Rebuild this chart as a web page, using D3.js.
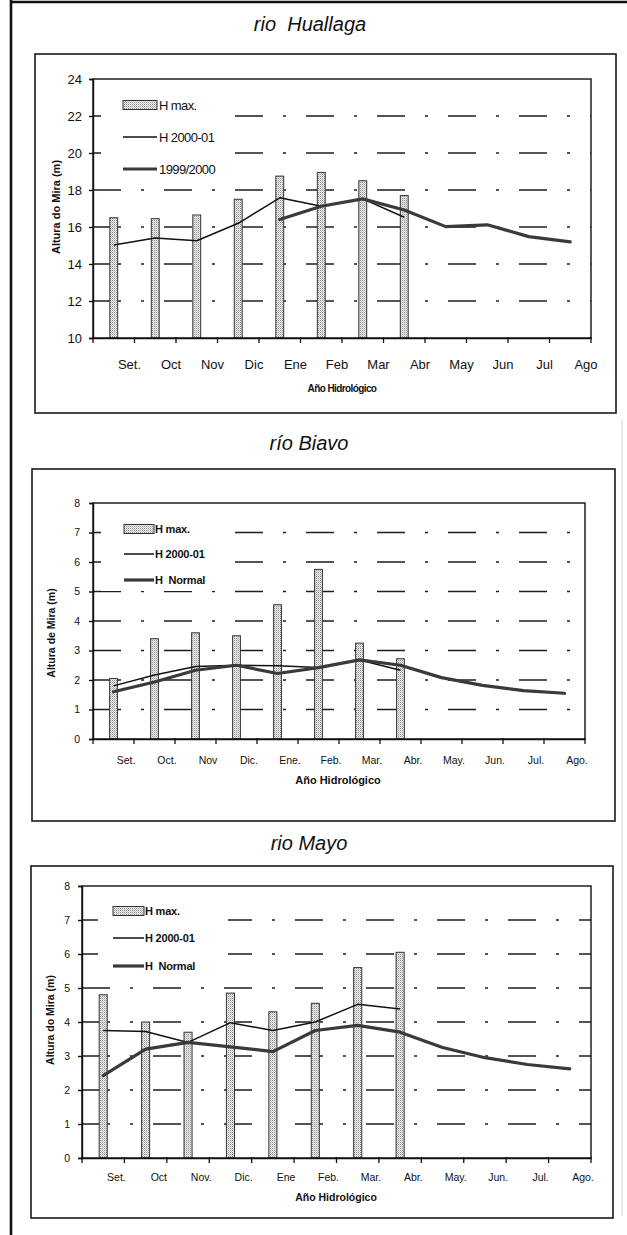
<!DOCTYPE html>
<html>
<head>
<meta charset="utf-8">
<script src="https://cdn.jsdelivr.net/npm/d3@7"></script>
<style>
  html, body { margin: 0; padding: 0; background: #fff; }
  svg { display: block; font-family: "Liberation Sans", Arial, sans-serif; }
  text { fill: #111; white-space: pre; }
</style>
</head>
<body>
<script>
// ---------- data ----------
const mesesHuallaga = ["Set.", "Oct", "Nov", "Dic", "Ene", "Feb", "Mar", "Abr", "May", "Jun", "Jul", "Ago"];
const mesesBiavo    = ["Set.", "Oct.", "Nov", "Dic.", "Ene.", "Feb.", "Mar.", "Abr.", "May.", "Jun.", "Jul.", "Ago."];
const mesesMayo     = ["Set.", "Oct", "Nov.", "Dic.", "Ene", "Feb.", "Mar.", "Abr.", "May.", "Jun.", "Jul.", "Ago."];

// río Huallaga (m)
const huallagaHmax  = [16.5, 16.45, 16.65, 17.5, 18.75, 18.95, 18.5, 17.7];
const huallagaH2000 = [15.03, 15.4, 15.26, 16.2, 17.58, 17.12, 17.52, 16.53];
const huallaga1999  = [null, null, null, null, 16.4, 17.12, 17.52, 16.92, 16.02, 16.12, 15.48, 15.2];
const huallagaTicks = [10, 12, 14, 16, 18, 20, 22, 24];

// río Biavo (m)
const biavoHmax   = [2.05, 3.4, 3.6, 3.5, 4.55, 5.75, 3.25, 2.72];
const biavoH2000  = [1.8, 2.17, 2.46, 2.5, 2.48, 2.42, 2.68, 2.33];
const biavoNormal = [1.6, 1.93, 2.33, 2.5, 2.22, 2.42, 2.68, 2.5, 2.08, 1.82, 1.64, 1.55];
const biavoTicks  = [0, 1, 2, 3, 4, 5, 6, 7, 8];

// río Mayo (m)
const mayoHmax   = [4.8, 4.0, 3.7, 4.85, 4.3, 4.55, 5.6, 6.05];
const mayoH2000  = [3.75, 3.72, 3.4, 3.98, 3.75, 4.0, 4.52, 4.38];
const mayoNormal = [2.42, 3.2, 3.4, 3.27, 3.13, 3.75, 3.9, 3.7, 3.25, 2.95, 2.75, 2.62];
const mayoTicks  = [0, 1, 2, 3, 4, 5, 6, 7, 8];

const leyendaHuallaga = ["H max.", "H 2000-01", "1999/2000"];
const leyendaNormal   = ["H max.", "H 2000-01", "H  Normal"];

// ---------- drawing ----------
const W = 627, H = 1235;
const svg = d3.select("body").append("svg").attr("width", W).attr("height", H);

// stippled fill used by the H max. bars
const defs = svg.append("defs");
const pat = defs.append("pattern").attr("id", "stipple")
  .attr("patternUnits", "userSpaceOnUse").attr("width", 2).attr("height", 2);
pat.append("rect").attr("width", 2).attr("height", 2).attr("fill", "#f2f2f2");
pat.append("rect").attr("width", 1).attr("height", 1).attr("fill", "#8c8c8c");
pat.append("rect").attr("x", 1).attr("y", 1).attr("width", 1).attr("height", 1).attr("fill", "#c4c4c4");

// page frame
svg.append("line").attr("x1", 11).attr("x2", 11).attr("y1", 0).attr("y2", H)
  .attr("stroke", "#111").attr("stroke-width", 2.6);
svg.append("line").attr("x1", 10).attr("x2", W).attr("y1", 2).attr("y2", 2)
  .attr("stroke", "#111").attr("stroke-width", 2.6);
svg.append("line").attr("x1", 622).attr("x2", 622).attr("y1", 420).attr("y2", 1216)
  .attr("stroke", "#d0d0d0").attr("stroke-width", 1);

function drawChart(cfg) {
  const g = svg.append("g");
  const p = cfg.plot;

  // outer box of the chart
  g.append("rect")
    .attr("x", cfg.box[0]).attr("y", cfg.box[1])
    .attr("width", cfg.box[2] - cfg.box[0]).attr("height", cfg.box[3] - cfg.box[1])
    .attr("fill", "none").attr("stroke", "#1a1a1a").attr("stroke-width", 1.6);

  // title
  g.append("text")
    .attr("x", cfg.title.x).attr("y", cfg.title.y)
    .attr("text-anchor", "middle").attr("font-style", "italic")
    .attr("font-size", 20).text(cfg.title.text);

  const x = d3.scaleBand().domain(cfg.cats).range([p.x0, p.x1]).padding(0);
  const y = d3.scaleLinear().domain([cfg.ticks[0], cfg.ticks[cfg.ticks.length - 1]]).range([p.y1, p.y0]);
  const bw = x.bandwidth();
  const cx = (i) => x(cfg.cats[i]) + bw / 2;

  // dash-dot gridlines
  g.append("g").selectAll("line")
    .data(cfg.ticks.slice(1, -1))
    .join("line")
    .attr("x1", p.x0).attr("x2", p.x1)
    .attr("y1", d => y(d)).attr("y2", d => y(d))
    .attr("stroke", "#1e1e1e").attr("stroke-width", 1.7)
    .attr("stroke-dasharray", "28 20 3 20");

  // H max. bars
  const barW = bw * 0.19;
  g.append("g").selectAll("rect")
    .data(cfg.hmax)
    .join("rect")
    .attr("x", (d, i) => cx(i) - barW / 2)
    .attr("y", d => y(d))
    .attr("width", barW)
    .attr("height", d => y(cfg.ticks[0]) - y(d))
    .attr("fill", "url(#stipple)")
    .attr("stroke", "#333").attr("stroke-width", 1);

  // lines
  const line = d3.line()
    .defined(d => d.v != null)
    .x(d => cx(d.i)).y(d => y(d.v));
  const thin = cfg.h2000.map((v, i) => ({ i, v }));
  const thick = cfg.normal.map((v, i) => ({ i, v }));

  g.append("path").datum(thin).attr("d", line)
    .attr("fill", "none").attr("stroke", "#111").attr("stroke-width", 1.5)
    .attr("stroke-linejoin", "round");
  g.append("path").datum(thick).attr("d", line)
    .attr("fill", "none").attr("stroke", "#3a3a3a").attr("stroke-width", 3.2)
    .attr("stroke-linejoin", "round").attr("stroke-linecap", "round");

  // legend
  const L = cfg.legend;
  g.append("rect").attr("x", L.bg[0]).attr("y", L.bg[1])
    .attr("width", L.bg[2] - L.bg[0]).attr("height", L.bg[3] - L.bg[1]).attr("fill", "#fff");
  g.append("rect").attr("x", L.sx).attr("y", L.rows[0] - 4.5).attr("width", L.sw).attr("height", 9)
    .attr("fill", "url(#stipple)").attr("stroke", "#333").attr("stroke-width", 1);
  g.append("line").attr("x1", L.sx).attr("x2", L.sx + L.sw).attr("y1", L.rows[1]).attr("y2", L.rows[1])
    .attr("stroke", "#111").attr("stroke-width", 1.5);
  g.append("line").attr("x1", L.sx).attr("x2", L.sx + L.sw).attr("y1", L.rows[2]).attr("y2", L.rows[2])
    .attr("stroke", "#3a3a3a").attr("stroke-width", 3.2);
  g.append("g").selectAll("text")
    .data(cfg.legendLabels)
    .join("text")
    .attr("x", L.tx).attr("y", (d, i) => L.rows[i]).attr("dy", "0.36em")
    .attr("font-size", L.fs).attr("font-weight", L.fw)
    .attr("letter-spacing", L.ls)
    .text(d => d);

  // plot area frame
  g.append("rect").attr("x", p.x0).attr("y", p.y0)
    .attr("width", p.x1 - p.x0).attr("height", p.y1 - p.y0)
    .attr("fill", "none").attr("stroke", "#111").attr("stroke-width", 1.4);

  // y axis
  const yAxis = d3.axisLeft(y).tickValues(cfg.ticks).tickSize(4)
    .tickPadding(cfg.yPad).tickFormat(d3.format("d"));
  const ya = g.append("g").attr("transform", `translate(${p.x0},0)`).call(yAxis);
  ya.select(".domain").attr("stroke", "#111").attr("stroke-width", 1.4);
  ya.selectAll(".tick line").attr("stroke", "#111").attr("stroke-width", 1.4);
  ya.selectAll(".tick text").attr("font-size", cfg.tickFs).attr("font-family", null).attr("fill", "#111");

  // x axis: labels from the band scale, tick marks at category boundaries
  const xAxis = d3.axisBottom(x).tickSize(0).tickPadding(cfg.xPad);
  const xa = g.append("g").attr("transform", `translate(0,${p.y1})`).call(xAxis);
  xa.select(".domain").attr("stroke", "#111").attr("stroke-width", 1.4);
  xa.selectAll(".tick text")
    .attr("dx", bw / 2 - cfg.xShift)
    .attr("font-size", cfg.tickFs).attr("font-family", null).attr("fill", "#111");
  const bounds = cfg.cats.map(c => x(c)).concat([p.x1]);
  g.append("g").selectAll("line")
    .data(bounds)
    .join("line")
    .attr("x1", d => d).attr("x2", d => d)
    .attr("y1", p.y1 - 1).attr("y2", p.y1 + 5)
    .attr("stroke", "#111").attr("stroke-width", 1.3);

  // axis titles
  g.append("text")
    .attr("transform", `translate(${cfg.yTitle.x},${cfg.yTitle.y}) rotate(-90)`)
    .attr("text-anchor", "middle").attr("dy", "0.35em")
    .attr("font-size", cfg.yTitle.fs).attr("font-weight", "bold")
    .text(cfg.yTitle.text);
  g.append("text")
    .attr("x", cfg.xTitle.x).attr("y", cfg.xTitle.y)
    .attr("text-anchor", "middle")
    .attr("font-size", cfg.xTitle.fs).attr("font-weight", "bold")
    .attr("letter-spacing", cfg.xTitle.ls)
    .text("Año Hidrológico");
}

drawChart({
  title: { text: "rio  Huallaga", x: 310, y: 31 },
  box: [35, 54, 616, 413],
  plot: { x0: 93, x1: 591, y0: 79, y1: 338 },
  cats: mesesHuallaga,
  ticks: huallagaTicks,
  hmax: huallagaHmax, h2000: huallagaH2000, normal: huallaga1999,
  legendLabels: leyendaHuallaga,
  legend: { bg: [101, 86, 234, 182], sx: 123, sw: 34, rows: [105, 137, 169], tx: 159, fs: 13, fw: "normal", ls: -0.6 },
  yPad: 7, tickFs: 13, xPad: 22, xShift: 5,
  yTitle: { text: "Altura do Mira (m)", x: 56, y: 207, fs: 11 },
  xTitle: { x: 342, y: 392, fs: 10, ls: -0.6 }
});

drawChart({
  title: { text: "río Biavo", x: 309, y: 450 },
  box: [32, 469, 615, 821],
  plot: { x0: 93, x1: 585, y0: 503, y1: 739 },
  cats: mesesBiavo,
  ticks: biavoTicks,
  hmax: biavoHmax, h2000: biavoH2000, normal: biavoNormal,
  legendLabels: leyendaNormal,
  legend: { bg: [101, 514, 233, 591], sx: 124, sw: 30, rows: [529, 554, 580], tx: 155, fs: 11, fw: "bold", ls: -0.2 },
  yPad: 9, tickFs: 10.5, xPad: 17.5, xShift: 8,
  yTitle: { text: "Altura de Mira (m)", x: 51, y: 633, fs: 10.5 },
  xTitle: { x: 338, y: 784, fs: 11, ls: 0 }
});

drawChart({
  title: { text: "rio Mayo", x: 309, y: 850 },
  box: [31, 866, 613, 1218],
  plot: { x0: 82, x1: 591, y0: 886, y1: 1158 },
  cats: mesesMayo,
  ticks: mayoTicks,
  hmax: mayoHmax, h2000: mayoH2000, normal: mayoNormal,
  legendLabels: leyendaNormal,
  legend: { bg: [98, 897, 228, 979], sx: 113, sw: 31, rows: [911, 938, 966], tx: 145, fs: 11, fw: "bold", ls: -0.2 },
  yPad: 8, tickFs: 10.5, xPad: 15.5, xShift: 8,
  yTitle: { text: "Altura do Mira (m)", x: 50, y: 1020, fs: 10.5 },
  xTitle: { x: 336, y: 1201, fs: 10.5, ls: 0 }
});
</script>
</body>
</html>
